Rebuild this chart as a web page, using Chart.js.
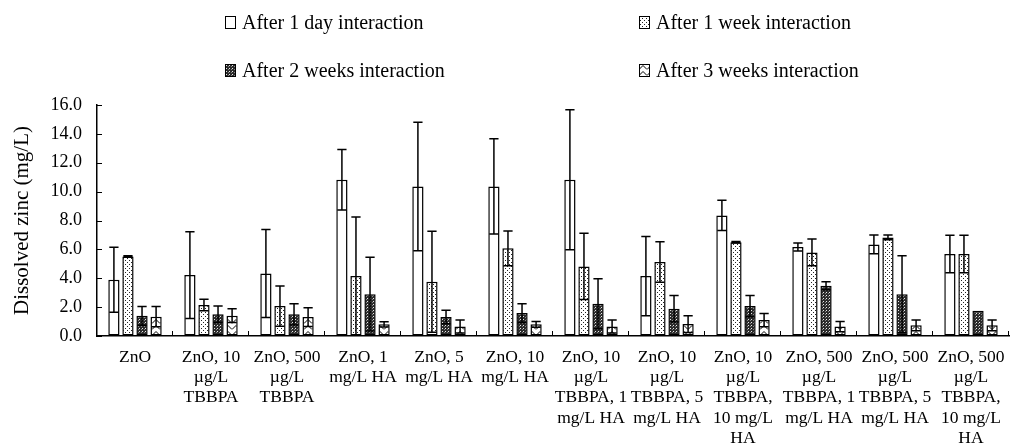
<!DOCTYPE html>
<html>
<head>
<meta charset="utf-8">
<script src="https://cdn.jsdelivr.net/npm/chart.js@4/dist/chart.umd.min.js"></script>
<style>
  body { margin: 0; background: #fff; }
  #wrap { position: relative; width: 1010px; height: 443px; overflow: hidden; }
  .leg { position: absolute; font: 20px "Liberation Serif", "Times New Roman", serif; line-height: 24px; color: #000; display: flex; align-items: center; white-space: nowrap; }
  .leg canvas { margin-right: 6px; }
</style>
</head>
<body>
<div id="wrap">
  <canvas id="chart" width="1010" height="443"></canvas>
  <div class="leg" style="left:225px; top:10px;"><canvas id="sw0" width="11" height="13"></canvas>After 1 day interaction</div>
  <div class="leg" style="left:639px; top:10px;"><canvas id="sw1" width="11" height="13"></canvas>After 1 week interaction</div>
  <div class="leg" style="left:225px; top:58px;"><canvas id="sw2" width="11" height="13"></canvas>After 2 weeks interaction</div>
  <div class="leg" style="left:639px; top:58px;"><canvas id="sw3" width="11" height="13"></canvas>After 3 weeks interaction</div>
</div>
<script>
const categories = [
  ["ZnO"],
  ["ZnO, 10", "µg/L", "TBBPA"],
  ["ZnO, 500", "µg/L", "TBBPA"],
  ["ZnO, 1", "mg/L HA"],
  ["ZnO, 5", "mg/L HA"],
  ["ZnO, 10", "mg/L HA"],
  ["ZnO, 10", "µg/L", "TBBPA, 1", "mg/L HA"],
  ["ZnO, 10", "µg/L", "TBBPA, 5", "mg/L HA"],
  ["ZnO, 10", "µg/L", "TBBPA,", "10 mg/L", "HA"],
  ["ZnO, 500", "µg/L", "TBBPA, 1", "mg/L HA"],
  ["ZnO, 500", "µg/L", "TBBPA, 5", "mg/L HA"],
  ["ZnO, 500", "µg/L", "TBBPA,", "10 mg/L", "HA"]
];
const seriesNames = ["After 1 day interaction", "After 1 week interaction", "After 2 weeks interaction", "After 3 weeks interaction"];

const day1 = [3.9, 4.22, 4.33, 10.82, 10.36, 10.36, 10.82, 4.15, 8.35, 6.16, 6.34, 5.68];
const day1Err = [2.25, 3.0, 3.05, 2.1, 4.45, 3.3, 4.85, 2.75, 1.05, 0.28, 0.65, 1.3];
const week1 = [5.5, 2.15, 2.07, 4.15, 3.76, 6.07, 4.82, 5.12, 6.5, 5.79, 6.83, 5.68];
const week1Err = [0.05, 0.4, 1.4, 4.1, 3.5, 1.2, 2.3, 1.4, 0.05, 0.92, 0.16, 1.3];
const week2 = [1.4, 1.5, 1.5, 2.9, 1.31, 1.59, 2.24, 1.89, 2.07, 3.48, 2.9, 1.75];
const week2Err = [0.65, 0.57, 0.74, 2.55, 0.47, 0.65, 1.73, 0.92, 0.74, 0.28, 2.65, 0];
const week3 = [1.34, 1.41, 1.31, 0.81, 0.65, 0.81, 0.65, 0.83, 1.1, 0.65, 0.74, 0.74];
const week3Err = [0.7, 0.48, 0.65, 0.18, 0.45, 0.2, 0.45, 0.58, 0.46, 0.35, 0.37, 0.37];

const yTicks = [0, 2, 4, 6, 8, 10, 12, 14, 16];

const serif = '"Liberation Serif", "Times New Roman", serif';

// fill patterns imitating the print hatching
function makePattern(kind) {
  const c = document.createElement("canvas");
  const g = c.getContext("2d");
  if (kind === "white") {
    c.width = 2; c.height = 2;
    g.fillStyle = "#fff"; g.fillRect(0, 0, 2, 2);
  } else if (kind === "dots") {
    c.width = 4; c.height = 4;
    g.fillStyle = "#fff"; g.fillRect(0, 0, 4, 4);
    g.fillStyle = "#222";
    g.fillRect(1, 0, 1, 1);
    g.fillRect(3, 2, 1, 1);
  } else if (kind === "dark") {
    c.width = 3; c.height = 3;
    g.fillStyle = "#2b2b2b"; g.fillRect(0, 0, 3, 3);
    g.fillStyle = "#e8e8e8";
    g.fillRect(1, 1, 1, 1);
    g.fillStyle = "#888";
    g.fillRect(0, 2, 1, 1);
  } else {
    c.width = 8; c.height = 6;
    g.fillStyle = "#fff"; g.fillRect(0, 0, 8, 6);
    g.strokeStyle = "#000"; g.lineWidth = 1;
    g.beginPath();
    g.moveTo(0, 5.5); g.lineTo(4, 1.5); g.lineTo(8, 5.5);
    g.stroke();
  }
  return g.createPattern(c, "repeat");
}

const kinds = ["white", "dots", "dark", "chev"];
const fills = kinds.map(makePattern);
const values = [day1, week1, week2, week3];
const errors = [day1Err, week1Err, week2Err, week3Err];

// legend swatches
kinds.forEach((k, i) => {
  const sw = document.getElementById("sw" + i);
  const g = sw.getContext("2d");
  g.fillStyle = fills[i];
  g.fillRect(1, 1, 9, 11);
  g.strokeStyle = "#000"; g.lineWidth = 1;
  g.strokeRect(0.5, 0.5, 10, 12);
});

const errorBars = {
  id: "errorBars",
  afterDatasetsDraw(chart) {
    const ctx = chart.ctx;
    const y = chart.scales.y;
    ctx.save();
    ctx.strokeStyle = "#000";
    ctx.lineWidth = 1.5;
    chart.data.datasets.forEach((ds, i) => {
      const meta = chart.getDatasetMeta(i);
      meta.data.forEach((bar, j) => {
        const e = errors[i][j];
        if (!e) return;
        const v = values[i][j];
        const yt = y.getPixelForValue(v + e);
        const yb = y.getPixelForValue(Math.max(0, v - e));
        const half = bar.width / 2 - 1;
        ctx.beginPath();
        ctx.moveTo(bar.x, yt); ctx.lineTo(bar.x, yb);
        ctx.moveTo(bar.x - half, yt); ctx.lineTo(bar.x + half, yt);
        ctx.moveTo(bar.x - half, yb); ctx.lineTo(bar.x + half, yb);
        ctx.stroke();
      });
    });
    // inside tick marks (Excel style): upward between categories, rightward on y
    const xs = chart.scales.x;
    const step = (xs.right - xs.left) / categories.length;
    ctx.lineWidth = 1;
    ctx.beginPath();
    for (let k = 1; k <= categories.length; k++) {
      const px = Math.round(xs.left + k * step) - 0.5;
      ctx.moveTo(px, xs.top - 5); ctx.lineTo(px, xs.top);
    }
    yTicks.forEach(v => {
      const py = Math.round(y.getPixelForValue(v)) + 0.5;
      ctx.moveTo(y.right, py); ctx.lineTo(y.right + 5, py);
    });
    ctx.stroke();
    ctx.restore();
  }
};

new Chart(document.getElementById("chart"), {
  type: "bar",
  data: {
    labels: categories,
    datasets: seriesNames.map((name, i) => ({
      label: name,
      data: values[i],
      backgroundColor: fills[i],
      borderColor: "#000",
      borderWidth: 1.5,
      borderSkipped: false
    }))
  },
  options: {
    responsive: false,
    devicePixelRatio: 1,
    animation: false,
    categoryPercentage: 0.74,
    barPercentage: 0.8,
    layout: { padding: { top: 105, right: 1, left: 0, bottom: 0 } },
    plugins: {
      legend: { display: false },
      tooltip: { enabled: false }
    },
    scales: {
      x: {
        grid: { display: false },
        border: { display: true, color: "#000", width: 1.5 },
        ticks: {
          color: "#000",
          font: { family: serif, size: 17.5, lineHeight: 1.16 },
          padding: 3,
          maxRotation: 0,
          autoSkip: false
        },
        afterFit(scale) { scale.height = 107; }
      },
      y: {
        min: 0,
        max: 16,
        afterBuildTicks(scale) { scale.ticks = yTicks.map(v => ({ value: v })); },
        grid: { drawOnChartArea: false, drawTicks: false },
        border: { display: true, color: "#000", width: 1.5 },
        ticks: {
          color: "#000",
          font: { family: serif, size: 18 },
          padding: 15,
          callback: v => Number(v).toFixed(1)
        },
        title: {
          display: true,
          text: "Dissolved zinc (mg/L)",
          color: "#000",
          font: { family: serif, size: 21 },
          padding: { top: 10, bottom: 4 }
        },
        afterFit(scale) { scale.width = 97; }
      }
    }
  },
  plugins: [errorBars]
});
</script>
</body>
</html>
